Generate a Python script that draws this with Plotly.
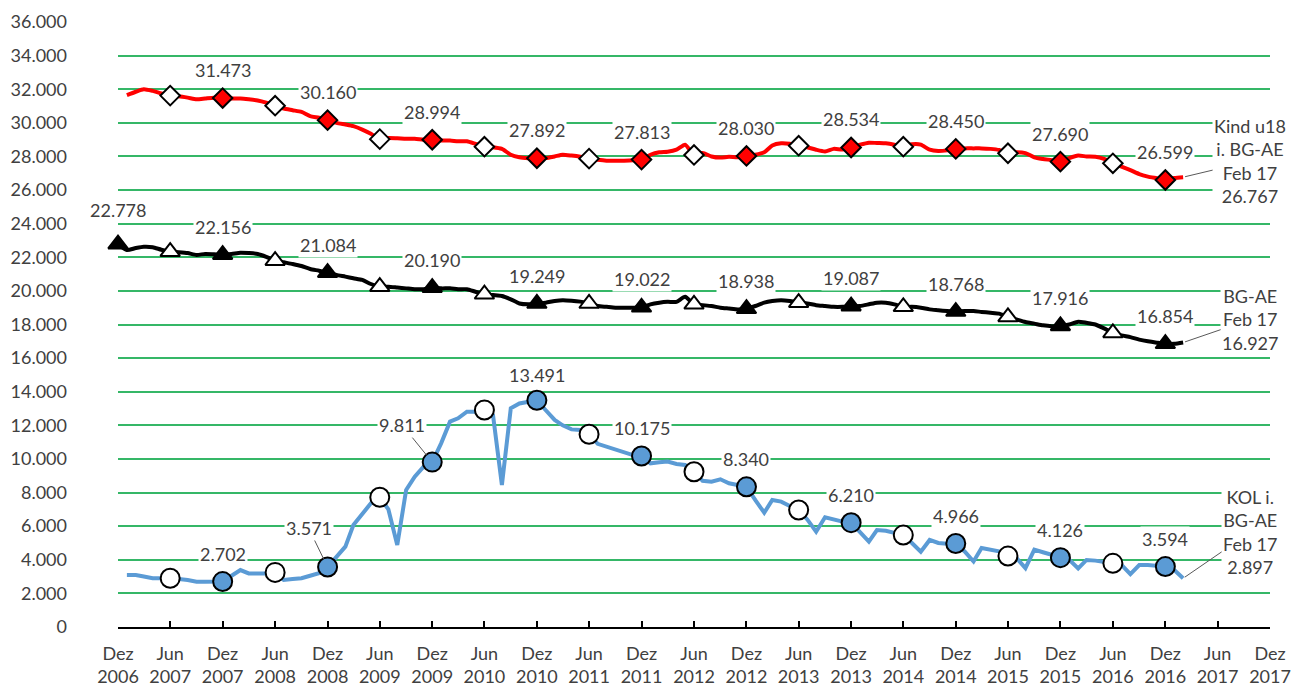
import plotly.graph_objects as go
import pandas as pd

# ---------------- data ----------------
months_all = pd.date_range("2006-12-01", "2017-02-01", freq="MS")  # Dez 2006 .. Feb 2017

# Kind u18 i. BG-AE (Jan 2007 .. Feb 2017)
kind_u18 = [
    31650, 31850, 32000, 31900, 31750, 31620, 31580, 31500, 31400, 31450, 31500, 31473,
    31450, 31450, 31400, 31330, 31200, 31020, 30850, 30750, 30650, 30400, 30300, 30160,
    30000, 29900, 29800, 29600, 29350, 29030, 29100, 29080, 29050, 29050, 29000, 28994,
    28950, 28950, 28900, 28900, 28750, 28580, 28550, 28450, 28100, 27950, 27900, 27892,
    27900, 28000, 28100, 28050, 27980, 27870, 27800, 27750, 27740, 27750, 27770, 27813,
    28100, 28250, 28280, 28400, 28700, 28090, 28200, 28000, 27930, 27980, 27950, 28030,
    28100, 28250, 28650, 28780, 28750, 28640, 28550, 28400, 28300, 28450, 28420, 28534,
    28700, 28820, 28800, 28780, 28700, 28580, 28720, 28700, 28400, 28320, 28360, 28450,
    28480, 28480, 28480, 28450, 28380, 28190, 28250, 28200, 27950, 27850, 27780, 27690,
    27900, 28050, 28000, 27980, 27850, 27590, 27400, 27190, 26950, 26800, 26700, 26599,
    26720, 26767,
]

# BG-AE (Dez 2006 .. Feb 2017)
bg_ae = [
    22778,
    22430, 22550, 22630, 22600, 22450, 22330, 22300, 22250, 22140, 22200, 22180, 22156,
    22200, 22270, 22250, 22200, 22030, 21800, 21700, 21600, 21480, 21300, 21200, 21084,
    20950, 20850, 20750, 20650, 20410, 20250, 20250, 20200, 20150, 20100, 20100, 20190,
    20150, 20150, 20100, 20100, 19950, 19800, 19750, 19700, 19500, 19250, 19200, 19249,
    19300, 19400, 19450, 19420, 19360, 19250, 19100, 19050, 19000, 19000, 19000, 19022,
    19200, 19300, 19350, 19350, 19650, 19200, 19150, 19100, 19000, 18950, 18900, 18938,
    19100, 19300, 19400, 19450, 19400, 19300, 19250, 19150, 19100, 19050, 19050, 19087,
    19100, 19200, 19300, 19300, 19200, 19050, 19050, 19000, 18900, 18850, 18800, 18768,
    18800, 18800, 18750, 18700, 18650, 18450, 18300, 18150, 18050, 17950, 17900, 17916,
    18000, 18170, 18100, 18000, 17770, 17500, 17350, 17250, 17100, 17000, 16920, 16854,
    16850, 16927,
]

# KOL i. BG-AE (Jan 2007 .. Feb 2017)
kol = [
    3090, 3090, 3000, 2900, 2900, 2900, 2850, 2800, 2700, 2700, 2700, 2702,
    3050, 3390, 3190, 3190, 3190, 3250, 2800, 2850, 2900, 3050, 3200, 3571,
    4180, 4780, 6070, 6770, 7360, 7720, 7000, 4880, 8150, 8940, 9540, 9811,
    10930, 12220, 12420, 12810, 12810, 12910, 12600, 8450, 13010, 13300, 13400, 13491,
    12900, 12320, 12000, 11760, 11720, 11470, 10900, 10730, 10570, 10400, 10230, 10175,
    9740, 9800, 9840, 9700, 9640, 9240, 8700, 8650, 8790, 8550, 8450, 8340,
    7550, 6800, 7560, 7460, 7200, 6960, 6400, 5670, 6530, 6400, 6270, 6210,
    5600, 5080, 5770, 5730, 5600, 5470, 5000, 4480, 5180, 5000, 4950, 4966,
    4500, 3900, 4700, 4600, 4500, 4220, 4100, 3500, 4600, 4450, 4300, 4126,
    4000, 3490, 3990, 3950, 3850, 3790, 3700, 3150, 3690, 3690, 3650, 3594,
    3390, 2897,
]

month_names = {12: "Dez", 6: "Jun"}
tick_dates = pd.date_range("2006-12-01", "2017-12-01", freq="6MS")
tick_text = [f"{month_names[d.month]}<br>{d.year}" for d in tick_dates]

end_labels = {
    "kind": "Kind u18<br>i. BG-AE<br>Feb 17<br>26.767",
    "bg": "BG-AE<br>Feb 17<br>16.927",
    "kol": "KOL i.<br>BG-AE<br>Feb 17<br>2.897",
}

# ---------------- styling ----------------
FONT = "Lato, 'Open Sans', sans-serif"
TXT = "#404040"
GRID = "#35B767"
RED = "#FF0000"
BLUE = "#5B9BD5"
FS = 18


def fmt(v):
    return f"{v:,.0f}".replace(",", ".")


fig = go.Figure()

series = [
    ("kind", months_all[1:], kind_u18, RED, "diamond", RED, 15, "spline"),
    ("bg", months_all, bg_ae, "black", "triangle-up", "black", 17, "spline"),
    ("kol", months_all[1:], kol, BLUE, "circle", BLUE, 19, "linear"),
]

annotations = []
for key, dates, vals, col, sym, fillcol, msize, shape in series:
    s = pd.Series(vals, index=dates)
    line = dict(color=col, width=4, shape=shape)
    if shape == "spline":
        line["smoothing"] = 0.6
    fig.add_trace(go.Scatter(x=s.index, y=s.values, mode="lines", line=line,
                             hoverinfo="skip", showlegend=False, cliponaxis=False))
    jun = s[s.index.month == 6]
    dez = s[s.index.month == 12]
    fig.add_trace(go.Scatter(x=jun.index, y=jun.values, mode="markers",
                             marker=dict(symbol=sym, size=msize, color="white",
                                         line=dict(color="black", width=2)),
                             showlegend=False, cliponaxis=False))
    fig.add_trace(go.Scatter(x=dez.index, y=dez.values, mode="markers",
                             marker=dict(symbol=sym, size=msize, color=fillcol,
                                         line=dict(color="black", width=2)),
                             showlegend=False, cliponaxis=False))
    for d, v in dez.items():
        a = dict(x=d, y=v, text=fmt(v), showarrow=False, bgcolor="white",
                 font=dict(family=FONT, size=FS, color=TXT), yshift=28, borderpad=1)
        if key == "bg" and d.year == 2006:
            a["yshift"] = 34
        if key == "kol" and d.year == 2008:
            a.update(showarrow=True, yshift=0, ax=-19, ay=-39, arrowhead=0,
                     arrowwidth=1, arrowcolor="#595959", standoff=9)
        if key == "kol" and d.year == 2009:
            a.update(showarrow=True, yshift=0, ax=-30, ay=-37, arrowhead=0,
                     arrowwidth=1, arrowcolor="#595959", standoff=9)
        if key == "kol" and d.year == 2010:
            a["yshift"] = 25
        annotations.append(a)
    # end label
    offs = {"kind": (67, -16), "bg": (67, -23), "kol": (67, -46)}[key]
    annotations.append(dict(x=s.index[-1], y=s.values[-1], text=end_labels[key],
                            showarrow=True, ax=offs[0], ay=offs[1], arrowhead=0,
                            arrowwidth=1, arrowcolor="#595959", standoff=2,
                            bgcolor="white", align="center",
                            font=dict(family=FONT, size=FS, color=TXT)))

fig.update_layout(
    width=1295, height=689,
    margin=dict(l=118, r=25, t=22, b=62),
    paper_bgcolor="white", plot_bgcolor="white",
    separators=",.",
    font=dict(family=FONT, size=FS, color=TXT),
    annotations=annotations,
    showlegend=False,
)
fig.update_xaxes(
    type="date", range=[tick_dates[0], tick_dates[-1]],
    tickvals=tick_dates, ticktext=tick_text, tickangle=0,
    showgrid=False, zeroline=False,
    showline=True, linecolor="black", linewidth=2,
    ticks="inside", ticklen=6, tickwidth=2, tickcolor="black",
    tickfont=dict(family=FONT, size=FS, color=TXT),
    ticklabelstandoff=9, automargin=False,
)
fig.update_yaxes(
    range=[0, 36000], dtick=2000, tickformat=",.0f",
    showgrid=True, gridcolor=GRID, gridwidth=1.5,
    zeroline=False, showline=False, ticks="",
    tickfont=dict(family=FONT, size=FS, color=TXT),
    ticklabelstandoff=50, automargin=False,
)

fig.write_html(
    "out.html",
    config={"displayModeBar": False},
    post_script="document.body.style.margin='0';document.body.style.overflow='hidden';"
                "document.documentElement.style.overflow='hidden';",
)
